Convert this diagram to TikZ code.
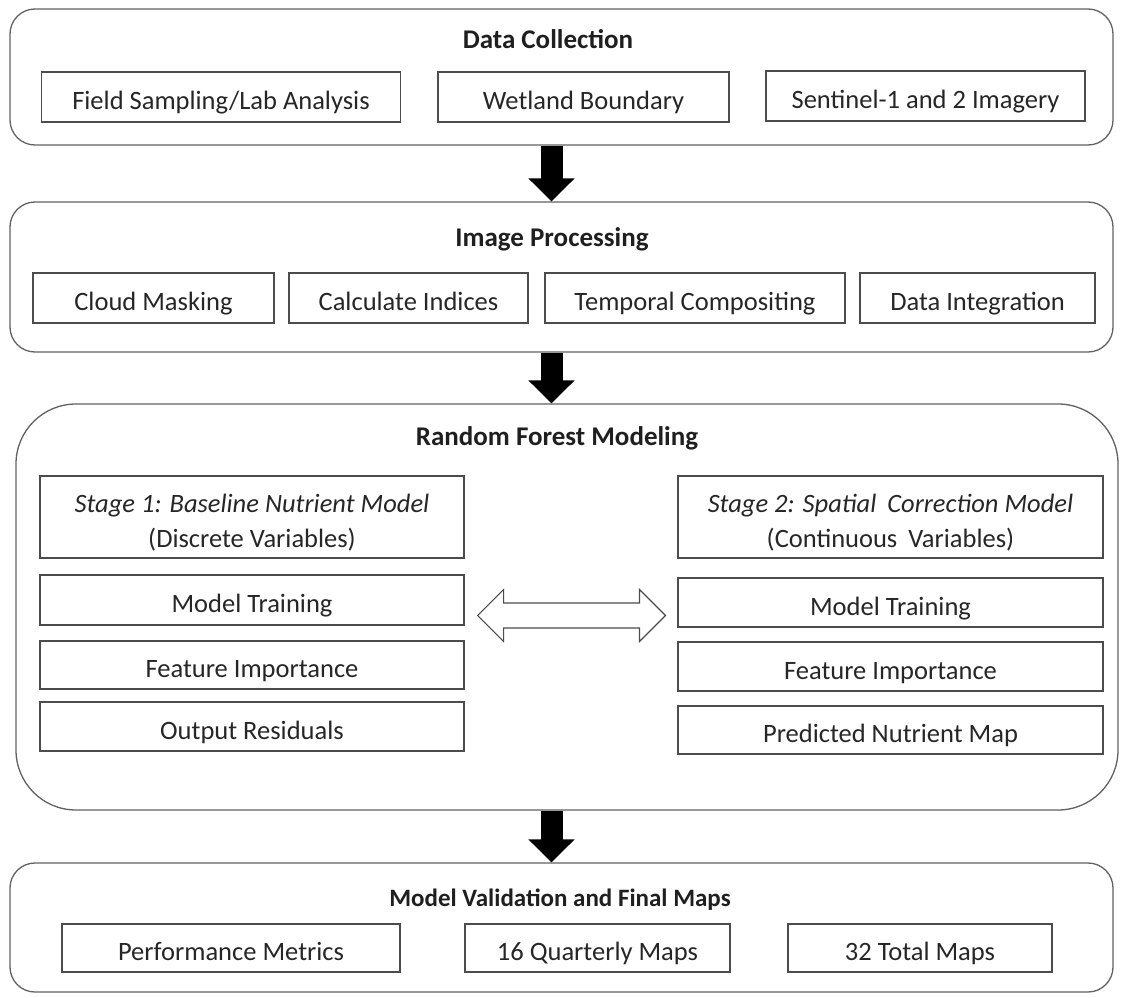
\documentclass[tikz,border=0pt]{standalone}
\usepackage{fontspec}
\setmainfont{Carlito}
\usetikzlibrary{arrows.meta,calc}
\begin{document}
\begin{tikzpicture}[x=1pt,y=-1pt,
  outer/.style={draw=black!62, line width=1.3pt, rounded corners=25pt, inner sep=0pt},
  inner/.style={draw=black!70, line width=1.2pt, inner sep=0pt, text height=25pt, text depth=0pt,
    font=\fontsize{26.5}{30}\selectfont, text=black!85},
  txt/.style={anchor=base, inner sep=0pt, font=\fontsize{26.5}{30}\selectfont, text=black!85},
  title/.style={anchor=base, inner sep=0pt, font=\fontsize{27}{30}\selectfont\bfseries, text=black!88},
  flow/.style={line width=22pt, -{Triangle[width=45pt,length=23pt]}}
]
\useasboundingbox (0,0) rectangle (1122,998);
% Box 1
\node[outer, minimum width=1103pt, minimum height=136pt] (b1) at (561.5,77) {};
\node[title] (t1) at (548,49) {Data Collection};
\node[inner, minimum width=359pt, minimum height=50pt] (f1) at (221,97) {Field Sampling/Lab Analysis};
\node[inner, minimum width=291pt, minimum height=50pt] (f2) at (583.5,97) {Wetland Boundary};
\node[inner, minimum width=319pt, minimum height=50pt] (f3) at (925.5,96) {Sentinel-1 and 2 Imagery};
% Box 2
\node[outer, minimum width=1103pt, minimum height=150pt] (b2) at (561.5,277) {};
\node[title] (t2) at (552,246) {Image Processing};
\node[inner, minimum width=241pt, minimum height=50pt] (i1) at (153.5,298) {Cloud Masking};
\node[inner, minimum width=239pt, minimum height=50pt] (i2) at (408.5,298) {Calculate Indices};
\node[inner, minimum width=300pt, minimum height=50pt] (i3) at (695,298) {Temporal Compositing};
\node[inner, minimum width=235pt, minimum height=50pt] (i4) at (977.5,298) {Data Integration};
% Box 3
\node[outer, rounded corners=60pt, minimum width=1102pt, minimum height=406pt] (b3) at (567,607) {};
\node[title] (t3) at (557,445) {Random Forest Modeling};
\node[inner, minimum width=424pt, minimum height=82pt] (s1) at (252,517) {};
\node[txt] (s1a) at (252,512) {\itshape Stage 1: Baseline Nutrient Model};
\node[txt] (s1b) at (252,547) {(Discrete Variables)};
\node[inner, minimum width=424pt, minimum height=50pt] (l1) at (252,600) {Model Training};
\node[inner, minimum width=424pt, minimum height=48pt] (l2) at (252,665) {Feature Importance};
\node[inner, minimum width=424pt, minimum height=49pt] (l3) at (252,726.5) {Output Residuals};
\node[inner, minimum width=425pt, minimum height=82pt] (s2) at (890.5,517) {};
\node[txt] (s2a) at (890.5,512) {\itshape Stage 2: Spatial\hspace{5pt} Correction Model};
\node[txt] (s2b) at (890.5,547) {(Continuous\hspace{5pt} Variables)};
\node[inner, minimum width=425pt, minimum height=49pt] (r1) at (890.5,602.5) {Model Training};
\node[inner, minimum width=425pt, minimum height=49pt] (r2) at (890.5,666.5) {Feature Importance};
\node[inner, minimum width=425pt, minimum height=48pt] (r3) at (890.5,730) {Predicted Nutrient Map};
% Box 4
\node[outer, minimum width=1103pt, minimum height=129pt] (b4) at (561.5,927.5) {};
\node[title, font=\fontsize{25}{28}\selectfont\bfseries] (t4) at (560,906) {Model Validation and Final Maps};
\node[inner, minimum width=338pt, minimum height=48pt] (m1) at (231,948) {Performance Metrics};
\node[inner, minimum width=265pt, minimum height=48pt] (m2) at (597.5,948) {16 Quarterly Maps};
\node[inner, minimum width=264pt, minimum height=48pt] (m3) at (920,948) {32 Total Maps};
% flow arrows
\coordinate (ax) at (551.5,0);
\draw[flow] (b1.south -| ax) -- (b2.north -| ax);
\draw[flow] (b2.south -| ax) -- (b3.north -| ax);
\draw[flow] (b3.south -| ax) -- (b4.north -| ax);
% double arrow
\coordinate (dy) at (0,615.5);
\draw[draw=black!70, line width=1.2pt, fill=white]
  ($(l1.east |- dy)+(13,0)$) -- ++(26,-26) -- ++(0,13.5) -- ($(r1.west |- dy)+(-38,-12.5)$) -- ++(0,-13.5) -- ($(r1.west |- dy)+(-12,0)$)
  -- ++(-26,26) -- ++(0,-13.5) -- ($(l1.east |- dy)+(39,12.5)$) -- ++(0,13.5) -- cycle;
\end{tikzpicture}
\end{document}
